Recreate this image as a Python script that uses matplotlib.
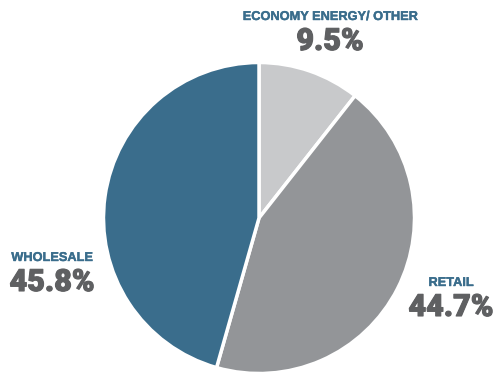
import matplotlib
matplotlib.use("Agg")
import matplotlib.pyplot as plt
import matplotlib.patheffects as pe

# printed shares, clockwise from the top
labels = ["ECONOMY ENERGY/ OTHER", "RETAIL", "WHOLESALE"]
shares = [9.5, 44.7, 45.8]
# slice sizes as actually drawn in the picture (slightly off the labels)
slice_sizes = [10.6, 43.8, 45.6]
colors = ["#c8c9cb", "#939598", "#3a6d8c"]

W, H = 496, 373
fig = plt.figure(figsize=(W / 100, H / 100), dpi=100)
ax = fig.add_axes([0, 0, 1, 1])

ax.pie(slice_sizes, colors=colors, startangle=90, counterclock=False,
       center=(259, H - 218), radius=155.5,
       wedgeprops=dict(edgecolor="white", linewidth=2.5))

# pie() resets the limits, so set them afterwards
ax.set_xlim(0, W)
ax.set_ylim(0, H)
ax.set_aspect("equal")
ax.axis("off")

# label positions in pixel coords (x, y from top)
label_pos = [(330, 17), (451, 283), (52, 258)]
blue = "#3a6d8c"
grey = "#5f6062"
for lab, val, (x, y) in zip(labels, shares, label_pos):
    ax.text(x, H - y, lab, ha="center", va="center", color=blue,
            fontsize=9.2, fontweight="bold", family="Liberation Sans",
            path_effects=[pe.withStroke(linewidth=0.3, foreground=blue)])
    ax.text(x, H - y - 24, "%.1f%%" % val, ha="center", va="center",
            color=grey, fontsize=22, fontweight="black", family="Roboto",
            path_effects=[pe.withStroke(linewidth=0.8, foreground=grey)])

fig.savefig("out.png", dpi=100)
